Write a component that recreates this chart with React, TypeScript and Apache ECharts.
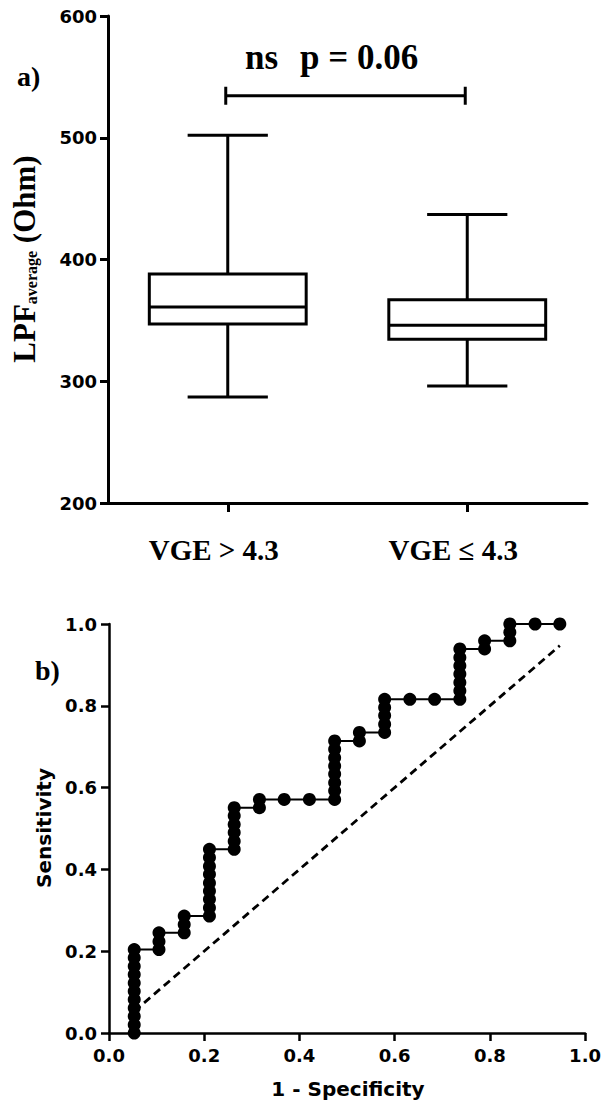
import React, { useEffect, useRef } from "react";
import * as echarts from "echarts";

// ---- Panel a) box plot data (LPF average, Ohm) ----
const categories = ["VGE > 4.3", "VGE \u2264 4.3"];
const whiskerLow = [287, 296];
const quartile1 = [347, 334.5];
const medians = [361, 346];
const quartile3 = [388, 367];
const whiskerHigh = [502, 437];
const lpfMin = 200;
const lpfMax = 600;
const lpfInterval = 100;

// significance bracket: [from category, to category, level]
const sigBracket = [0, 1, 534.5];
const sigLabelNs = "ns";
const sigLabelP = "p = 0.06";

// ---- Panel b) ROC curve data ----
// [1 - specificity, sensitivity], one line per column of the step curve
const rocPoints: number[][] = [
  [0.053, 0], [0.053, 0.02], [0.053, 0.041], [0.053, 0.061], [0.053, 0.082], [0.053, 0.102],
  [0.053, 0.122], [0.053, 0.143], [0.053, 0.163], [0.053, 0.184], [0.053, 0.204],
  [0.105, 0.204], [0.105, 0.224], [0.105, 0.245],
  [0.158, 0.245], [0.158, 0.265], [0.158, 0.286],
  [0.211, 0.286], [0.211, 0.306], [0.211, 0.327], [0.211, 0.347], [0.211, 0.367],
  [0.211, 0.388], [0.211, 0.408], [0.211, 0.429], [0.211, 0.449],
  [0.263, 0.449], [0.263, 0.469], [0.263, 0.49], [0.263, 0.51], [0.263, 0.531], [0.263, 0.551],
  [0.316, 0.551], [0.316, 0.571],
  [0.368, 0.571],
  [0.421, 0.571],
  [0.474, 0.571], [0.474, 0.592], [0.474, 0.612], [0.474, 0.633], [0.474, 0.653],
  [0.474, 0.673], [0.474, 0.694], [0.474, 0.714],
  [0.526, 0.714], [0.526, 0.735],
  [0.579, 0.735], [0.579, 0.755], [0.579, 0.776], [0.579, 0.796], [0.579, 0.816],
  [0.632, 0.816],
  [0.684, 0.816],
  [0.737, 0.816], [0.737, 0.837], [0.737, 0.857], [0.737, 0.878], [0.737, 0.898],
  [0.737, 0.918], [0.737, 0.939],
  [0.789, 0.939], [0.789, 0.959],
  [0.842, 0.959], [0.842, 0.98], [0.842, 1.0],
  [0.895, 1.0],
  [0.947, 1.0],
];
const referenceLine: number[][] = [
  [0.053, 0.053],
  [0.947, 0.947],
];
const rocMin = 0;
const rocMax = 1;
const rocInterval = 0.2;

const SERIF = '"Liberation Serif", "Times New Roman", serif';
const SANS = '"DejaVu Sans", Arial, sans-serif';

export default function App() {
  const ref = useRef<HTMLDivElement>(null);

  useEffect(() => {
    document.body.style.margin = "0";
    if (!ref.current) return;
    const chart = echarts.init(ref.current, null, { renderer: "svg" });

    const boxData = categories.map((c, i) => [
      i,
      whiskerLow[i],
      quartile1[i],
      medians[i],
      quartile3[i],
      whiskerHigh[i],
    ]);

    const stroke = { stroke: "#000", lineWidth: 3, fill: "none" };

    const option: any = {
      animation: false,
      backgroundColor: "#fff",
      grid: [
        { left: 108, top: 16, width: 479, height: 487 },
        { left: 109, top: 624, width: 478, height: 409 },
      ],
      xAxis: [
        {
          type: "category",
          gridIndex: 0,
          data: categories,
          boundaryGap: true,
          axisLine: { show: true, lineStyle: { color: "#000", width: 3 } },
          axisTick: { show: true, alignWithLabel: true, length: 9, lineStyle: { color: "#000", width: 3 } },
          axisLabel: {
            color: "#000",
            fontFamily: SERIF,
            fontWeight: "bold",
            fontSize: 29,
            margin: 32,
            padding: [0, 28, 0, 0],
          },
          splitLine: { show: false },
        },
        {
          type: "value",
          gridIndex: 1,
          min: rocMin,
          max: rocMax,
          interval: rocInterval,
          axisLine: { show: true, onZero: false, lineStyle: { color: "#000", width: 2.5 } },
          axisTick: { show: true, length: 8, lineStyle: { color: "#000", width: 2.5 } },
          axisLabel: {
            color: "#000",
            fontFamily: SANS,
            fontWeight: "bold",
            fontSize: 18,
            margin: 13,
            formatter: (v: number) => v.toFixed(1),
          },
          splitLine: { show: false },
        },
      ],
      yAxis: [
        {
          type: "value",
          gridIndex: 0,
          min: lpfMin,
          max: lpfMax,
          interval: lpfInterval,
          axisLine: { show: true, lineStyle: { color: "#000", width: 3 } },
          axisTick: { show: true, length: 8, lineStyle: { color: "#000", width: 3 } },
          axisLabel: {
            color: "#000",
            fontFamily: SANS,
            fontWeight: "bold",
            fontSize: 18,
            margin: 11,
          },
          splitLine: { show: false },
        },
        {
          type: "value",
          gridIndex: 1,
          min: rocMin,
          max: rocMax,
          interval: rocInterval,
          axisLine: { show: true, onZero: false, lineStyle: { color: "#000", width: 2.5 } },
          axisTick: { show: true, length: 8, lineStyle: { color: "#000", width: 2.5 } },
          axisLabel: {
            color: "#000",
            fontFamily: SANS,
            fontWeight: "bold",
            fontSize: 18,
            margin: 12,
            formatter: (v: number) => v.toFixed(1),
          },
          splitLine: { show: false },
        },
      ],
      series: [
        {
          type: "custom",
          xAxisIndex: 0,
          yAxisIndex: 0,
          data: boxData,
          encode: { x: 0, y: [1, 2, 3, 4, 5] },
          renderItem: (params: any, api: any) => {
            const idx = api.value(0);
            const band = api.size([1, 0])[0];
            const boxW = band * 0.655;
            const capW = band * 0.335;
            const pLow = api.coord([idx, api.value(1)]);
            const pQ1 = api.coord([idx, api.value(2)]);
            const pMed = api.coord([idx, api.value(3)]);
            const pQ3 = api.coord([idx, api.value(4)]);
            const pHigh = api.coord([idx, api.value(5)]);
            const cx = pMed[0];
            return {
              type: "group",
              children: [
                { type: "line", shape: { x1: cx, y1: pQ3[1], x2: cx, y2: pHigh[1] }, style: stroke },
                { type: "line", shape: { x1: cx, y1: pQ1[1], x2: cx, y2: pLow[1] }, style: stroke },
                {
                  type: "line",
                  shape: { x1: cx - capW / 2, y1: pHigh[1], x2: cx + capW / 2, y2: pHigh[1] },
                  style: stroke,
                },
                {
                  type: "line",
                  shape: { x1: cx - capW / 2, y1: pLow[1], x2: cx + capW / 2, y2: pLow[1] },
                  style: stroke,
                },
                {
                  type: "rect",
                  shape: { x: cx - boxW / 2, y: pQ3[1], width: boxW, height: pQ1[1] - pQ3[1] },
                  style: { stroke: "#000", lineWidth: 3, fill: "#fff" },
                },
                {
                  type: "line",
                  shape: { x1: cx - boxW / 2, y1: pMed[1], x2: cx + boxW / 2, y2: pMed[1] },
                  style: stroke,
                },
              ],
            };
          },
        },
        {
          type: "custom",
          xAxisIndex: 0,
          yAxisIndex: 0,
          data: [[sigBracket[0], sigBracket[2], sigBracket[1]]],
          encode: { x: 0, y: 1 },
          renderItem: (params: any, api: any) => {
            const p0 = api.coord([api.value(0), api.value(1)]);
            const p1 = api.coord([api.value(2), api.value(1)]);
            const h = 9;
            return {
              type: "group",
              children: [
                { type: "line", shape: { x1: p0[0] - 2, y1: p0[1], x2: p1[0] - 2, y2: p1[1] }, style: stroke },
                { type: "line", shape: { x1: p0[0] - 2, y1: p0[1] - h, x2: p0[0] - 2, y2: p0[1] + h }, style: stroke },
                { type: "line", shape: { x1: p1[0] - 2, y1: p1[1] - h, x2: p1[0] - 2, y2: p1[1] + h }, style: stroke },
              ],
            };
          },
        },
        {
          type: "line",
          xAxisIndex: 1,
          yAxisIndex: 1,
          data: referenceLine,
          showSymbol: false,
          symbol: "none",
          lineStyle: { color: "#000", width: 2.8, type: [8, 5] },
          z: 2,
        },
        {
          type: "line",
          xAxisIndex: 1,
          yAxisIndex: 1,
          data: rocPoints,
          symbol: "circle",
          symbolSize: 13,
          showSymbol: true,
          showAllSymbol: true,
          clip: false,
          lineStyle: { color: "#000", width: 2 },
          itemStyle: { color: "#000" },
          z: 3,
        },
      ],
      graphic: [
        {
          type: "text",
          x: 17,
          y: 76,
          style: { text: "a)", font: `bold 28px ${SERIF}`, fill: "#000", align: "left", verticalAlign: "middle" },
        },
        {
          type: "text",
          x: 245,
          y: 57,
          style: { text: sigLabelNs, font: `bold 35px ${SERIF}`, fill: "#000", align: "left", verticalAlign: "middle" },
        },
        {
          type: "text",
          x: 300,
          y: 57,
          style: { text: sigLabelP, font: `bold 35px ${SERIF}`, fill: "#000", align: "left", verticalAlign: "middle" },
        },
        {
          type: "text",
          x: 24,
          y: 259,
          rotation: Math.PI / 2,
          style: {
            text: "{m|LPF}{s|average}{m| (Ohm)}",
            align: "center",
            verticalAlign: "middle",
            fill: "#000",
            rich: {
              m: {
                fontFamily: SERIF,
                fontWeight: "bold",
                fontSize: 31,
                lineHeight: 31,
                verticalAlign: "bottom",
                fill: "#000",
              },
              s: {
                fontFamily: SERIF,
                fontWeight: "bold",
                fontSize: 16,
                lineHeight: 16,
                verticalAlign: "bottom",
                fill: "#000",
              },
            },
          },
        },
        {
          type: "text",
          x: 35,
          y: 670,
          style: { text: "b)", font: `bold 28px ${SERIF}`, fill: "#000", align: "left", verticalAlign: "middle" },
        },
        {
          type: "text",
          x: 44,
          y: 828,
          rotation: Math.PI / 2,
          style: { text: "Sensitivity", font: `bold 20px ${SANS}`, fill: "#000", align: "center", verticalAlign: "middle" },
        },
        {
          type: "text",
          x: 348,
          y: 1089,
          style: { text: "1 - Specificity", font: `bold 20px ${SANS}`, fill: "#000", align: "center", verticalAlign: "middle" },
        },
      ],
    };

    chart.setOption(option);
    return () => {
      chart.dispose();
    };
  }, []);

  return <div ref={ref} style={{ width: 604, height: 1106 }} />;
}
